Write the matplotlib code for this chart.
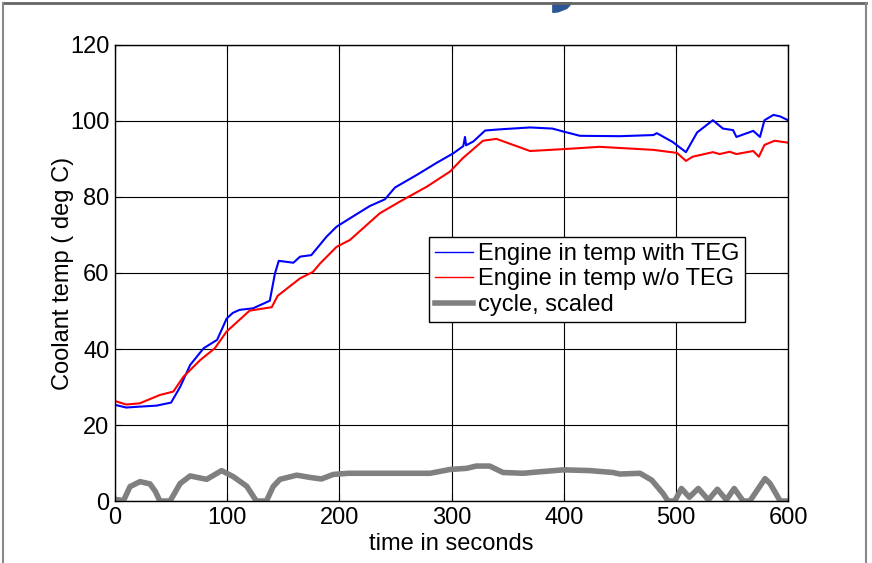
import matplotlib.pyplot as plt
from matplotlib.lines import Line2D
from matplotlib.patches import Polygon

plt.rcParams['font.family'] = ['Liberation Sans', 'DejaVu Sans']

# engine in temp with TEG
blue_t = [0, 10, 20, 37, 50, 58, 67, 79, 91, 99.5, 105, 111, 123, 138, 142.6, 146, 159, 165, 175,
          188.7, 197.6, 209.5, 227, 240.7, 249.6, 269, 286.8, 301.6, 310.5, 312, 313, 319.4, 330,
          343, 370, 390, 400, 414.5, 450, 480, 483, 497, 509, 519, 533, 542, 551, 554, 569, 575,
          579, 587, 593, 600]
blue_y = [25.3, 24.6, 24.8, 25.1, 25.9, 30, 35.8, 40.2, 42.4, 48, 49.5, 50.3, 50.7, 52.7, 59.9,
          63.2, 62.7, 64.3, 64.7, 69.6, 72.2, 74.4, 77.6, 79.4, 82.5, 85.8, 89, 91.5, 93.4, 95.8,
          93.6, 94.6, 97.5, 97.8, 98.3, 98.0, 97.2, 96.1, 96.0, 96.3, 96.8, 94.5, 91.8, 97, 100.2,
          98, 97.6, 95.8, 97.4, 95.8, 100.2, 101.6, 101.2, 100.2]

# engine in temp without TEG
red_t = [0, 10, 22, 40, 52, 61, 76, 89, 99.5, 120, 139.7, 145, 165, 176.5, 182.8, 197.6, 209.5,
         236, 254, 277.9, 298.7, 310, 328, 340, 370, 400, 432, 480, 501, 509, 515, 533, 539, 548,
         554, 569, 574, 579, 588, 600]
red_y = [26.3, 25.4, 25.7, 27.9, 28.8, 32.7, 37.1, 40.2, 44.6, 50.1, 51, 54, 58.6, 60.3, 62.5,
         66.9, 68.7, 75.7, 78.8, 82.7, 86.7, 90.2, 94.8, 95.3, 92.1, 92.6, 93.2, 92.4, 91.6, 89.5,
         90.6, 91.8, 91.3, 91.9, 91.3, 92.1, 90.6, 93.7, 94.8, 94.3]

# drive cycle, scaled
cyc_t = [0, 4, 7.4, 13.4, 22.3, 31.2, 36, 40, 49, 53, 58, 67, 81.7, 95, 105.5, 117.4, 126, 135,
         141, 147, 162, 174, 184, 194.6, 208, 230, 281, 298.7, 313.5, 322, 334, 346, 364, 379,
         399.7, 423.5, 444, 450, 468, 478.5, 488.5, 493, 499, 505, 512, 520, 529, 537, 545, 552,
         560, 566, 579.5, 584, 593, 600]
cyc_y = [0.4, 0.3, 0, 3.8, 5.1, 4.5, 2.5, 0, 0, 2, 4.6, 6.6, 5.7, 8, 6.4, 3.9, 0, 0, 3.8, 5.7,
         6.8, 6.2, 5.8, 7.0, 7.3, 7.3, 7.3, 8.3, 8.6, 9.2, 9.2, 7.5, 7.3, 7.7, 8.2, 8.0, 7.5, 7.1,
         7.3, 5.5, 2, 0, 0, 3.3, 1.0, 3.3, 0.3, 3.1, 0.3, 3.3, 0, 0, 5.9, 4.6, 0, 0]

x_ticks = [0, 100, 200, 300, 400, 500, 600]
y_ticks = [0, 20, 40, 60, 80, 100, 120]

fig = plt.figure(figsize=(8.72, 5.63), dpi=100)
ax = fig.add_axes([0.1319, 0.1101, 0.7718, 0.81])

ax.plot(blue_t, blue_y, color='#0000ff', lw=1.5, label='Engine in temp with TEG')
ax.plot(red_t, red_y, color='#ff0000', lw=1.5, label='Engine in temp w/o TEG')
ax.plot(cyc_t, cyc_y, color='#808080', lw=4, label='cycle, scaled')

ax.set_xlim(0, 600)
ax.set_ylim(0, 120)
ax.set_xticks(x_ticks)
ax.set_yticks(y_ticks)
ax.grid(True, color='black', lw=0.8, ls='-')
ax.set_axisbelow(True)
ax.tick_params(direction='in', top=True, right=True, length=5, labelsize=17, pad=4)
for s in ax.spines.values():
    s.set_linewidth(1.0)

ax.set_xlabel('time in seconds', fontsize=17, labelpad=3)
ax.set_ylabel('Coolant temp ( deg C)', fontsize=17, labelpad=-3)

leg = ax.legend(loc='upper right', bbox_to_anchor=(0.936, 0.579), fontsize=17,
                handlelength=1.6, handletextpad=0.2, labelspacing=0.15, borderpad=0.25,
                borderaxespad=0, fancybox=False, framealpha=1, edgecolor='black')
leg.get_frame().set_linewidth(1.0)
for h in leg.get_lines()[:2]:
    h.set_linewidth(1.0)

# figure border (top, left, right) and the small blue mark at the top
fig.add_artist(Line2D([0.003, 0.993], [0.995, 0.995], color='#666666', lw=2, transform=fig.transFigure))
fig.add_artist(Line2D([0.003, 0.003], [0.0, 0.995], color='#888888', lw=1.5, transform=fig.transFigure))
fig.add_artist(Line2D([0.993, 0.993], [0.0, 0.995], color='#888888', lw=1.5, transform=fig.transFigure))
fig.add_artist(Polygon([[0.634, 0.995], [0.656, 0.995], [0.650, 0.985], [0.640, 0.979], [0.634, 0.978]],
                       closed=True, color='#2b5797', transform=fig.transFigure))

fig.savefig('out.png', dpi=100)
